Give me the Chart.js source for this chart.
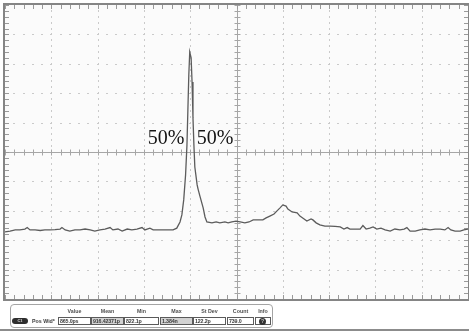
<!DOCTYPE html>
<html>
<head>
<meta charset="utf-8">
<script src="https://cdn.jsdelivr.net/npm/chart.js@4/dist/chart.umd.min.js"></script>
<style>
  html, body { margin: 0; padding: 0; background: #fff; }
  #wrap { position: relative; width: 469px; height: 334px; overflow: hidden; background: #fff; }
  #scope { position: absolute; left: 0; top: 0; }
  .frameLine { position: absolute; left: 0; width: 469px; height: 2px; background: #8c8c8c; }
  #measBox { position: absolute; left: 10px; top: 304px; width: 263px; height: 24px;
             border: 1px solid #a4a4a4; border-radius: 4px; box-sizing: border-box; }
  .mtxt { position: absolute; font-family: "Liberation Sans", Arial, sans-serif; font-weight: bold;
          font-size: 5.3px; line-height: 8px; color: #3a3a3a; white-space: nowrap; overflow: hidden; }
  .hdr { text-align: center; color: #505050; }
  .cell { border: 1px solid #5a5a5a; box-sizing: border-box; background: #fff; padding-left: 1px;
          line-height: 6px; letter-spacing: -0.15px; }
  .cell.shade { background: #d2d2d2; }
  #chBadge { position: absolute; left: 12px; top: 318px; width: 16px; height: 6px; border-radius: 3px;
             background: #2e2e2e; color: #ddd; font: bold 4px "Liberation Sans", Arial, sans-serif;
             line-height: 6px; text-align: center; }
  #infoDot { position: absolute; left: 259px; top: 318px; width: 7px; height: 7px; border-radius: 50%;
             background: #333; color: #ccc; font: bold 5px "Liberation Sans", Arial, sans-serif;
             line-height: 7px; text-align: center; }
</style>
</head>
<body>
<div id="wrap">
  <canvas id="scope" width="469" height="334"></canvas>
  <div class="frameLine" style="top:329px"></div>
  <div id="measBox"></div>
  <div id="chBadge">C1</div>
  <div class="mtxt" style="left:32px; top:317px;">Pos Wid*</div>
</div>
<script>
// Time axis in screen divisions (10 divisions across)
const timeDiv = [
  0.00, 0.11, 0.22, 0.32, 0.43, 0.48, 0.54, 0.65, 0.76, 0.86, 0.97, 1.08, 1.19, 1.23, 1.30, 1.40,
  1.51, 1.62, 1.73, 1.84, 1.94, 2.05, 2.16, 2.27, 2.33, 2.44, 2.53, 2.64, 2.74, 2.85, 2.96, 3.02,
  3.13, 3.20, 3.30, 3.41, 3.52, 3.63, 3.71, 3.78, 3.82, 3.86, 3.90, 3.93, 3.95, 3.97, 3.99, 4.02,
  4.04, 4.06, 4.08, 4.10, 4.15, 4.17, 4.21, 4.28, 4.32, 4.36, 4.47, 4.56, 4.64, 4.75, 4.82, 4.90,
  4.99, 5.08, 5.18, 5.27, 5.36, 5.46, 5.57, 5.64, 5.72, 5.81, 5.87, 5.94, 6.00, 6.07, 6.11, 6.20,
  6.31, 6.37, 6.46, 6.52, 6.61, 6.65, 6.72, 6.80, 6.91, 7.02, 7.13, 7.24, 7.32, 7.39, 7.45, 7.56,
  7.67, 7.73, 7.80, 7.88, 7.95, 8.03, 8.12, 8.21, 8.32, 8.42, 8.53, 8.62, 8.68, 8.75, 8.86, 8.96,
  9.07, 9.18, 9.29, 9.40, 9.50, 9.57, 9.63, 9.72, 9.83, 9.91, 10.00
];

// Channel 1 amplitude in vertical divisions (centre line = 0)
const amplitudeDiv = [
  -2.72, -2.69, -2.65, -2.65, -2.62, -2.57, -2.65, -2.65, -2.67, -2.65, -2.65, -2.64, -2.62, -2.57, -2.65, -2.69,
  -2.65, -2.65, -2.62, -2.65, -2.69, -2.65, -2.62, -2.57, -2.65, -2.62, -2.69, -2.62, -2.65, -2.62, -2.57, -2.65,
  -2.59, -2.65, -2.65, -2.65, -2.65, -2.65, -2.59, -2.38, -2.14, -1.63, -0.78, 0.24, 1.43, 2.62, 3.40, 3.20,
  2.38, 1.16, 0.24, -0.51, -1.12, -1.26, -1.50, -1.90, -2.21, -2.38, -2.41, -2.38, -2.41, -2.38, -2.41, -2.38,
  -2.35, -2.38, -2.41, -2.38, -2.31, -2.31, -2.31, -2.24, -2.18, -2.11, -2.01, -1.90, -1.80, -1.84, -1.94, -2.04,
  -2.07, -2.18, -2.28, -2.35, -2.28, -2.31, -2.41, -2.48, -2.52, -2.52, -2.53, -2.55, -2.62, -2.57, -2.62, -2.62,
  -2.62, -2.50, -2.62, -2.59, -2.55, -2.62, -2.59, -2.65, -2.69, -2.62, -2.65, -2.62, -2.57, -2.69, -2.69, -2.65,
  -2.62, -2.65, -2.62, -2.62, -2.65, -2.57, -2.65, -2.69, -2.69, -2.65, -2.62
];

// 50% threshold markers
const markerTimes = [3.48, 4.54];
const markerLevel = 0.44;
const markerText = ['50%', '50%'];

// Measurement readout
const measHeaders = ['Value', 'Mean', 'Min', 'Max', 'St Dev', 'Count', 'Info'];
const measValues = ['865.0ps', '916.42371p', '822.1p', '1.384n', '122.2p', '739.0'];

// ---- measurement panel layout ----
const wrap = document.getElementById('wrap');
const cellLeft = [58, 91, 124, 160, 193, 227, 255];
const cellWidth = [33, 33, 35, 33, 33, 27, 16];
const shaded = [false, true, false, true, false, false, false];
measHeaders.forEach((h, i) => {
  const d = document.createElement('div');
  d.className = 'mtxt hdr';
  d.style.left = cellLeft[i] + 'px';
  d.style.width = cellWidth[i] + 'px';
  d.style.top = '307px';
  d.textContent = h;
  wrap.appendChild(d);
});
measValues.forEach((v, i) => {
  const d = document.createElement('div');
  d.className = 'mtxt cell' + (shaded[i] ? ' shade' : '');
  d.style.left = cellLeft[i] + 'px';
  d.style.width = cellWidth[i] + 'px';
  d.style.top = '317px';
  d.style.height = '8px';
  d.textContent = v;
  wrap.appendChild(d);
});
const infoCell = document.createElement('div');
infoCell.className = 'mtxt cell';
infoCell.style.cssText = 'left:255px;width:16px;top:317px;height:8px;';
wrap.appendChild(infoCell);
const dot = document.createElement('div');
dot.id = 'infoDot';
dot.textContent = '?';
wrap.appendChild(dot);

// ---- oscilloscope graticule ----
const graticule = {
  id: 'graticule',
  beforeDatasetsDraw(chart) {
    const { ctx, chartArea: a, scales: { x, y } } = chart;
    ctx.save();
    ctx.fillStyle = '#fbfbfb';
    ctx.fillRect(a.left, a.top, a.right - a.left, a.bottom - a.top);

    // dotted division lines
    ctx.fillStyle = '#cacaca';
    for (let i = 1; i < 10; i++) {
      if (i === 5) continue;
      const px = Math.round(x.getPixelForValue(i));
      for (let k = 0; k <= 50; k++) {
        const py = y.getPixelForValue(-5 + k * 0.2);
        ctx.fillRect(px, Math.round(py) - 1, 1, 2);
      }
    }
    for (let j = -4; j <= 4; j++) {
      if (j === 0) continue;
      const py = Math.round(y.getPixelForValue(j));
      for (let k = 0; k <= 50; k++) {
        const px = x.getPixelForValue(k * 0.2);
        ctx.fillRect(Math.round(px) - 1, py, 2, 1);
      }
    }

    // centre cross with minor ticks
    const cx = Math.round(x.getPixelForValue(5)) + 0.5;
    const cy = Math.round(y.getPixelForValue(0)) + 0.5;
    ctx.strokeStyle = '#a6a6a6';
    ctx.lineWidth = 1;
    ctx.beginPath();
    ctx.moveTo(cx, a.top); ctx.lineTo(cx, a.bottom);
    ctx.moveTo(a.left, cy); ctx.lineTo(a.right, cy);
    for (let k = 0; k <= 50; k++) {
      const py = Math.round(y.getPixelForValue(-5 + k * 0.2)) + 0.5;
      ctx.moveTo(cx - 3, py); ctx.lineTo(cx + 3, py);
      const px = Math.round(x.getPixelForValue(k * 0.2)) + 0.5;
      ctx.moveTo(px, cy - 3); ctx.lineTo(px, cy + 3);
    }
    ctx.stroke();

    // minor ticks along the frame
    ctx.strokeStyle = '#9a9a9a';
    ctx.beginPath();
    for (let k = 0; k <= 50; k++) {
      const px = Math.round(x.getPixelForValue(k * 0.2)) + 0.5;
      ctx.moveTo(px, a.top); ctx.lineTo(px, a.top + 4);
      ctx.moveTo(px, a.bottom); ctx.lineTo(px, a.bottom - 4);
      const py = Math.round(y.getPixelForValue(-5 + k * 0.2)) + 0.5;
      ctx.moveTo(a.left, py); ctx.lineTo(a.left + 4, py);
      ctx.moveTo(a.right, py); ctx.lineTo(a.right - 4, py);
    }
    ctx.stroke();
    ctx.restore();
  },
  afterDatasetsDraw(chart) {
    const { ctx, chartArea: a, scales: { x, y } } = chart;
    ctx.save();
    // frame
    ctx.strokeStyle = '#858585';
    ctx.lineWidth = 2;
    ctx.strokeRect(a.left - 1, a.top - 1, a.right - a.left + 2, a.bottom - a.top + 2);

    // 50% labels
    ctx.fillStyle = '#141414';
    ctx.font = '20px "Liberation Serif", "Times New Roman", serif';
    ctx.textAlign = 'center';
    ctx.textBaseline = 'middle';
    markerTimes.forEach((t, i) => {
      ctx.fillText(markerText[i], x.getPixelForValue(t), y.getPixelForValue(markerLevel));
    });
    ctx.restore();
  }
};

new Chart(document.getElementById('scope'), {
  type: 'line',
  data: {
    datasets: [{
      label: 'C1',
      data: timeDiv.map((t, i) => ({ x: t, y: amplitudeDiv[i] })),
      borderColor: '#5c5c5c',
      borderWidth: 1.3,
      pointRadius: 0,
      tension: 0,
      fill: false
    }]
  },
  options: {
    responsive: false,
    animation: false,
    layout: { padding: { left: 5, top: 5, right: 1, bottom: 35 } },
    plugins: { legend: { display: false }, tooltip: { enabled: false } },
    scales: {
      x: { type: 'linear', min: 0, max: 10, display: false },
      y: { type: 'linear', min: -5, max: 5, display: false }
    }
  },
  plugins: [graticule]
});
</script>
</body>
</html>
